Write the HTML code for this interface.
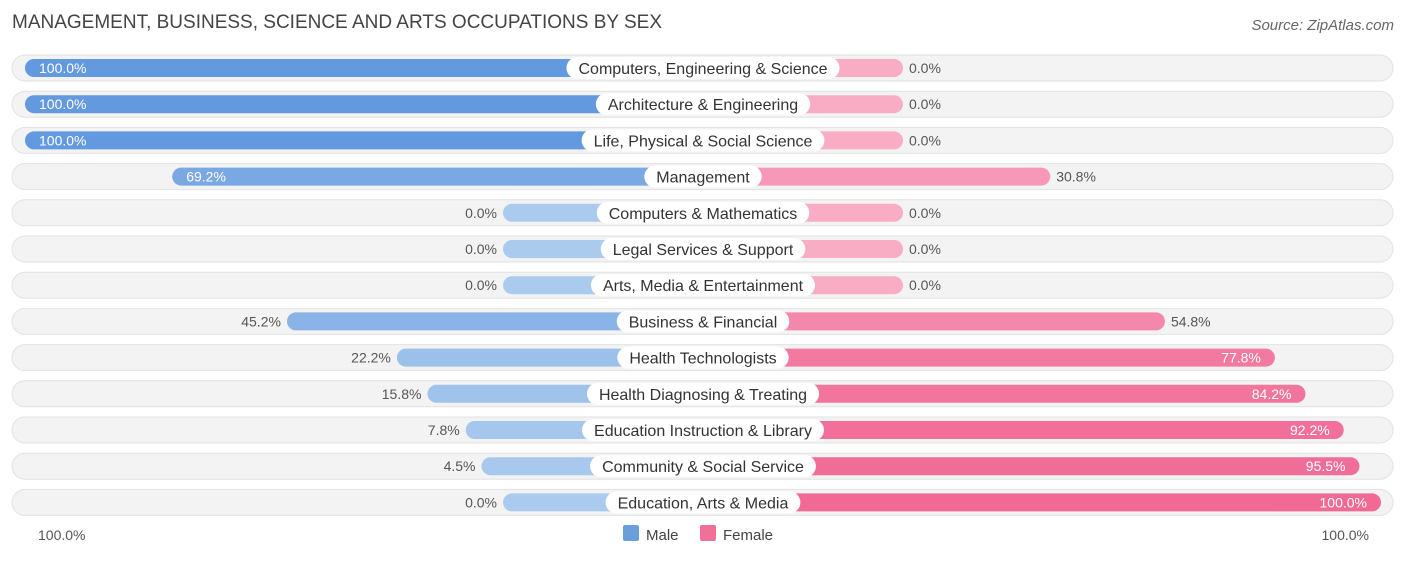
<!DOCTYPE html>
<html><head><meta charset="utf-8"><style>
body{margin:0;background:#fff;font-family:"Liberation Sans",sans-serif;}
svg text{font-family:"Liberation Sans",sans-serif;}
</style></head><body>
<svg id="c" width="1406" height="559">
<text x="12" y="28" font-size="19" fill="#444">MANAGEMENT, BUSINESS, SCIENCE AND ARTS OCCUPATIONS BY SEX</text>
<text x="1394" y="30" font-size="15" fill="#666" font-style="italic" text-anchor="end">Source: ZipAtlas.com</text>
<text x="38" y="540" font-size="14" fill="#555">100.0%</text>
<text x="1369" y="540" font-size="14" fill="#555" text-anchor="end">100.0%</text>
<rect x="623" y="525" width="16" height="16" rx="2" fill="#6a9fdc"/>
<text x="646" y="540" font-size="15" fill="#444">Male</text>
<rect x="700" y="525" width="16" height="16" rx="2" fill="#f07098"/>
<text x="723" y="540" font-size="15" fill="#444">Female</text>
</svg>
<script>
const categories=["Computers, Engineering & Science","Architecture & Engineering","Life, Physical & Social Science","Management","Computers & Mathematics","Legal Services & Support","Arts, Media & Entertainment","Business & Financial","Health Technologists","Health Diagnosing & Treating","Education Instruction & Library","Community & Social Service","Education, Arts & Media"];
const maleValues=[100,100,100,69.2,0,0,0,45.2,22.2,15.8,7.8,4.5,0];
const femaleValues=[0,0,0,30.8,0,0,0,54.8,77.8,84.2,92.2,95.5,100];
const svg=document.getElementById('c');
const NS='http://www.w3.org/2000/svg';
const cx=703,stub=200,scale=4.78,y0=68,step=36.2;
function len(v){return stub+scale*v;}
function rowY(i){return y0+step*i;}
function mix(a,b,t){const p=h=>[1,3,5].map(k=>parseInt(h.substr(k,2),16));const A=p(a),B=p(b);return 'rgb('+A.map((x,k)=>Math.round(x+(B[k]-x)*t)).join(',')+')';}
function el(t,at){const e=document.createElementNS(NS,t);for(const k in at)e.setAttribute(k,at[k]);svg.appendChild(e);return e;}
categories.forEach((cat,i)=>{
  const y=rowY(i);
  const bg=el('rect',{x:12,y:y-13,width:1381,height:26,rx:13,fill:'#f3f3f3',stroke:'#e2e2e2'});
  
  
  const m=maleValues[i],f=femaleValues[i];
  const ml=len(m),fl=len(f);
  const mb=el('rect',{x:cx-ml,y:y-9,width:ml,height:18,rx:9,fill:mix('#abcbee','#6399de',m/100)});
  
  
  const fb=el('rect',{x:cx,y:y-9,width:fl,height:18,rx:9,fill:mix('#f8adc5','#f06a95',f/100)});
  
  
  const mIn=ml>500,fIn=fl>500;
  const mt=el('text',{x:mIn?cx-ml+14:cx-ml-6,y:y+5,'font-size':14,fill:mIn?'#fff':'#555','text-anchor':mIn?'start':'end'});
  mt.textContent=m.toFixed(1)+'%';
  
  
  const ft=el('text',{x:fIn?cx+fl-14:cx+fl+6,y:y+5,'font-size':14,fill:fIn?'#fff':'#555','text-anchor':fIn?'end':'start'});
  ft.textContent=f.toFixed(1)+'%';
  
  
  const lt=el('text',{x:cx,y:y+6,'font-size':16,fill:'#333','text-anchor':'middle'});
  lt.textContent=cat;
  const w=lt.getComputedTextLength()+24;
  const pill=el('rect',{x:cx-w/2,y:y-11,width:w,height:22,rx:11,fill:'#fff'});
  svg.insertBefore(pill,lt);
  
  
  
  
});
</script>
</body></html>
